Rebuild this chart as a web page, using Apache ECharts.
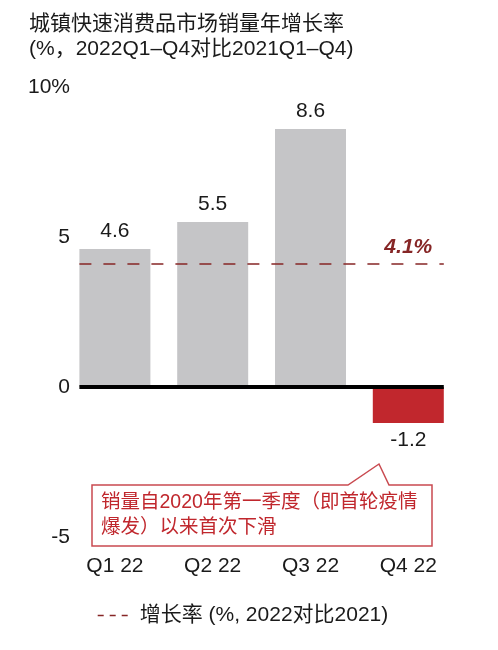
<!DOCTYPE html>
<html>
<head>
<meta charset="utf-8">
<script src="https://cdn.jsdelivr.net/npm/echarts@6/dist/echarts.min.js"></script>
<style>html,body{margin:0;padding:0;background:#fff;}#c{width:498px;height:650px;}</style>
</head>
<body>
<div id="c"></div>
<script>
// ---- data ----
const CATEGORIES = ['Q1 22', 'Q2 22', 'Q3 22', 'Q4 22'];
const GROWTH_2022 = [4.6, 5.5, 8.6, -1.2];
const AVG_GROWTH = 4.1;
const AVG_LABEL = '4.1%';
const Y_TICK_VALUES = [-5, 0, 5, 10];
const Y_TICK_LABELS = ['-5', '0', '5', '10%'];
const SERIES_NAME = '增长率 (%, 2022对比2021)';
const TITLE = '城镇快速消费品市场销量年增长率\n(%，2022Q1–Q4对比2021Q1–Q4)';
const NOTE = '销量自2020年第一季度（即首轮疫情\n爆发）以来首次下滑';

// ---- style ----
const FONT = "'Liberation Sans', Arial, 'Noto Sans CJK SC', sans-serif";
const GREY = '#C5C5C7';
const RED = '#C1272D';
const DARK_RED = '#862626';
const BAR_FRAC = 0.726;
const half = BAR_FRAC / 2;
const xStart = -half;
const xEnd = CATEGORIES.length - 1 + half;

const chart = echarts.init(document.getElementById('c'), null, {renderer: 'canvas'});

const option = {
  animation: false,
  backgroundColor: '#fff',
  textStyle: {fontFamily: FONT},
  title: {
    text: TITLE,
    left: 29,
    top: 12,
    padding: 0,
    textStyle: {fontFamily: FONT, fontSize: 21, fontWeight: 'normal', color: '#1a1a1a', lineHeight: 25}
  },
  legend: {
    show: true,
    left: 97,
    bottom: 24,
    padding: 0,
    itemWidth: 31,
    itemHeight: 14,
    textStyle: {fontFamily: FONT, fontSize: 21, color: '#1a1a1a', padding: [0, 0, 0, 6]},
    data: [{
      name: SERIES_NAME,
      itemStyle: {opacity: 0},
      lineStyle: {type: [6, 6], width: 1.4, color: DARK_RED}
    }]
  },
  grid: {left: 66, top: 87, width: 391.2, height: 450},
  xAxis: [
    {
      type: 'category',
      data: CATEGORIES,
      axisLine: {show: false},
      axisTick: {show: false},
      axisLabel: {fontFamily: FONT, fontSize: 21, color: '#1a1a1a', margin: 19}
    },
    {type: 'value', min: -0.5, max: CATEGORIES.length - 0.5, show: false}
  ],
  yAxis: {
    type: 'value',
    min: Y_TICK_VALUES[0],
    max: Y_TICK_VALUES[Y_TICK_VALUES.length - 1],
    interval: Y_TICK_VALUES[1] - Y_TICK_VALUES[0],
    axisLine: {show: false},
    axisTick: {show: false},
    splitLine: {show: false},
    axisLabel: {
      fontFamily: FONT, fontSize: 21, color: '#1a1a1a', margin: -4,
      formatter: v => Y_TICK_LABELS[Y_TICK_VALUES.indexOf(v)]
    }
  },
  series: [
    {
      type: 'bar',
      name: 'bars',
      barWidth: (BAR_FRAC * 100) + '%',
      data: GROWTH_2022.map(v => ({
        value: v,
        itemStyle: {color: v < 0 ? RED : GREY},
        label: {position: v < 0 ? 'bottom' : 'top'}
      })),
      label: {
        show: true,
        distance: 7,
        fontFamily: FONT,
        fontSize: 21,
        color: '#1a1a1a',
        formatter: p => p.value.toFixed(1)
      }
    },
    {
      type: 'line',
      name: 'zero',
      xAxisIndex: 1,
      symbol: 'none',
      silent: true,
      lineStyle: {color: '#000', width: 4},
      data: [[xStart, 0], [xEnd, 0]],
      z: 5
    },
    {
      type: 'line',
      name: SERIES_NAME,
      xAxisIndex: 1,
      symbol: 'none',
      silent: true,
      lineStyle: {color: DARK_RED, width: 1.4, type: [12, 12]},
      itemStyle: {color: DARK_RED},
      data: [[xStart, AVG_GROWTH], [xEnd, AVG_GROWTH]],
      markPoint: {
        symbol: 'circle',
        symbolSize: 0,
        data: [{coord: [CATEGORIES.length - 1, AVG_GROWTH]}],
        label: {
          show: true,
          position: 'inside',
          offset: [0, -17],
          formatter: AVG_LABEL,
          fontFamily: FONT,
          fontSize: 21,
          fontWeight: 'bold',
          fontStyle: 'italic',
          color: DARK_RED
        }
      },
      z: 4
    }
  ],
  graphic: [
    {
      type: 'polygon',
      shape: {points: [[92, 485], [348, 485], [379, 464], [389, 485], [432, 485], [432, 546], [92, 546]]},
      style: {fill: '#fff', stroke: '#C94A50', lineWidth: 1.5},
      z: 10
    },
    {
      type: 'text',
      x: 101,
      y: 490.5,
      style: {
        text: NOTE,
        font: '19.5px ' + FONT,
        fill: '#C0272D',
        lineHeight: 25,
        verticalAlign: 'top'
      },
      z: 11
    }
  ]
};
chart.setOption(option);
</script>
</body>
</html>
